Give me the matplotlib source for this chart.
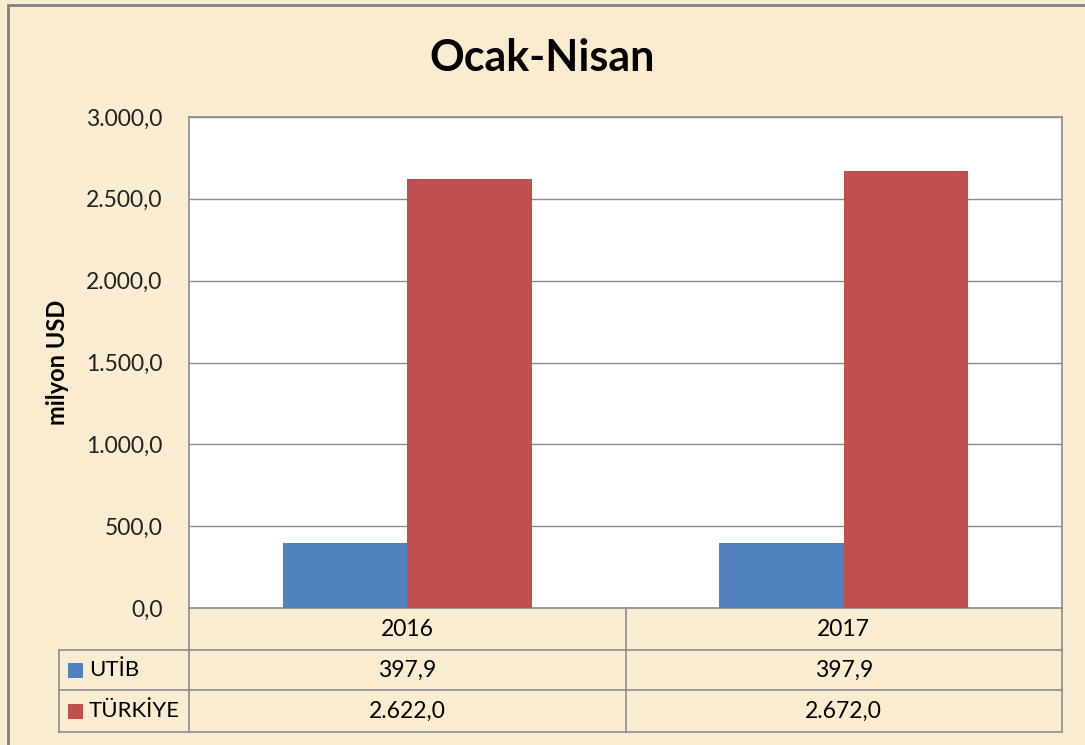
import matplotlib.pyplot as plt
from matplotlib.patches import Rectangle
import numpy as np

years = ['2016', '2017']
series = ['UTİB', 'TÜRKİYE']
utib = [397.9, 397.9]
turkiye = [2622.0, 2672.0]
utib_txt = ['397,9', '397,9']
turkiye_txt = ['2.622,0', '2.672,0']
yticks = [0, 500, 1000, 1500, 2000, 2500, 3000]
ytick_labels = ['0,0', '500,0', '1.000,0', '1.500,0', '2.000,0', '2.500,0', '3.000,0']

W, H = 1085, 745
plt.rcParams['font.family'] = ['Lato', 'DejaVu Sans']
bg = '#faecd0'
blue = '#4f81bd'
red = '#c0504d'
grid = '#8c8c8c'
fs = 16.5

fig = plt.figure(figsize=(W / 100, H / 100), dpi=100)
fig.patch.set_facecolor(bg)

# outer border
fig.patches.append(Rectangle((8 / W, -0.05), 1.2, 1 - 5 / H + 0.05, transform=fig.transFigure,
                             fill=False, edgecolor='#7f7f7f', linewidth=2))

left, right, top, bottom = 189, 1062, 117, 608
ax = fig.add_axes([left / W, 1 - bottom / H, (right - left) / W, (bottom - top) / H])
ax.set_facecolor('white')

x = np.arange(len(years))
bw = 0.285
ax.bar(x - bw / 2, utib, bw, color=blue, zorder=3)
ax.bar(x + bw / 2, turkiye, bw, color=red, zorder=3)

ax.set_xlim(-0.5, len(years) - 0.5)
ax.set_ylim(0, 3000)
ax.set_yticks(yticks)
ax.set_yticklabels(ytick_labels, fontsize=fs, color='#222222')
ax.set_xticks([])
ax.tick_params(axis='y', length=0, pad=19)
ax.yaxis.grid(True, color=grid, linewidth=1, zorder=0)
for s in ax.spines.values():
    s.set_color(grid)
    s.set_linewidth(1.2)

ax.set_ylabel('milyon USD', fontsize=17, fontweight='bold', labelpad=12)
fig.text(0.5, 1 - 58 / H, 'Ocak-Nisan', ha='center', va='center', fontsize=31, fontweight='bold')

# data table below the plot
ph = bottom - top
pw = right - left


def ay(py):
    return -(py - bottom) / ph


def ax_x(px):
    return (px - left) / pw


rows = [608, 650, 690, 732]
tleft = 59
kw = dict(transform=ax.transAxes, clip_on=False, color=grid, linewidth=1.2)
for r in rows[1:]:
    ax.plot([ax_x(tleft), 1], [ay(r), ay(r)], **kw)
ax.plot([ax_x(tleft), ax_x(tleft)], [ay(rows[1]), ay(rows[3])], **kw)
for cx in [left, (left + right) / 2, right]:
    ax.plot([ax_x(cx), ax_x(cx)], [ay(rows[0]), ay(rows[3])], **kw)

for i, yr in enumerate(years):
    cx = (i + 0.5) / len(years)
    ax.text(cx, ay((rows[0] + rows[1]) / 2), yr, transform=ax.transAxes, ha='center', va='center', fontsize=fs)
    ax.text(cx, ay((rows[1] + rows[2]) / 2), utib_txt[i], transform=ax.transAxes, ha='center', va='center', fontsize=fs)
    ax.text(cx, ay((rows[2] + rows[3]) / 2), turkiye_txt[i], transform=ax.transAxes, ha='center', va='center', fontsize=fs)

for j, (name, col) in enumerate(zip(series, [blue, red])):
    cy = (rows[j + 1] + rows[j + 2]) / 2
    ax.add_patch(Rectangle((ax_x(68), ay(cy + 7.5)), 15 / pw, 15 / ph, transform=ax.transAxes,
                           clip_on=False, facecolor=col, edgecolor='none'))
    ax.text(ax_x(89), ay(cy), name, transform=ax.transAxes, ha='left', va='center', fontsize=16)

fig.savefig('out.png', dpi=100, facecolor=fig.get_facecolor())
